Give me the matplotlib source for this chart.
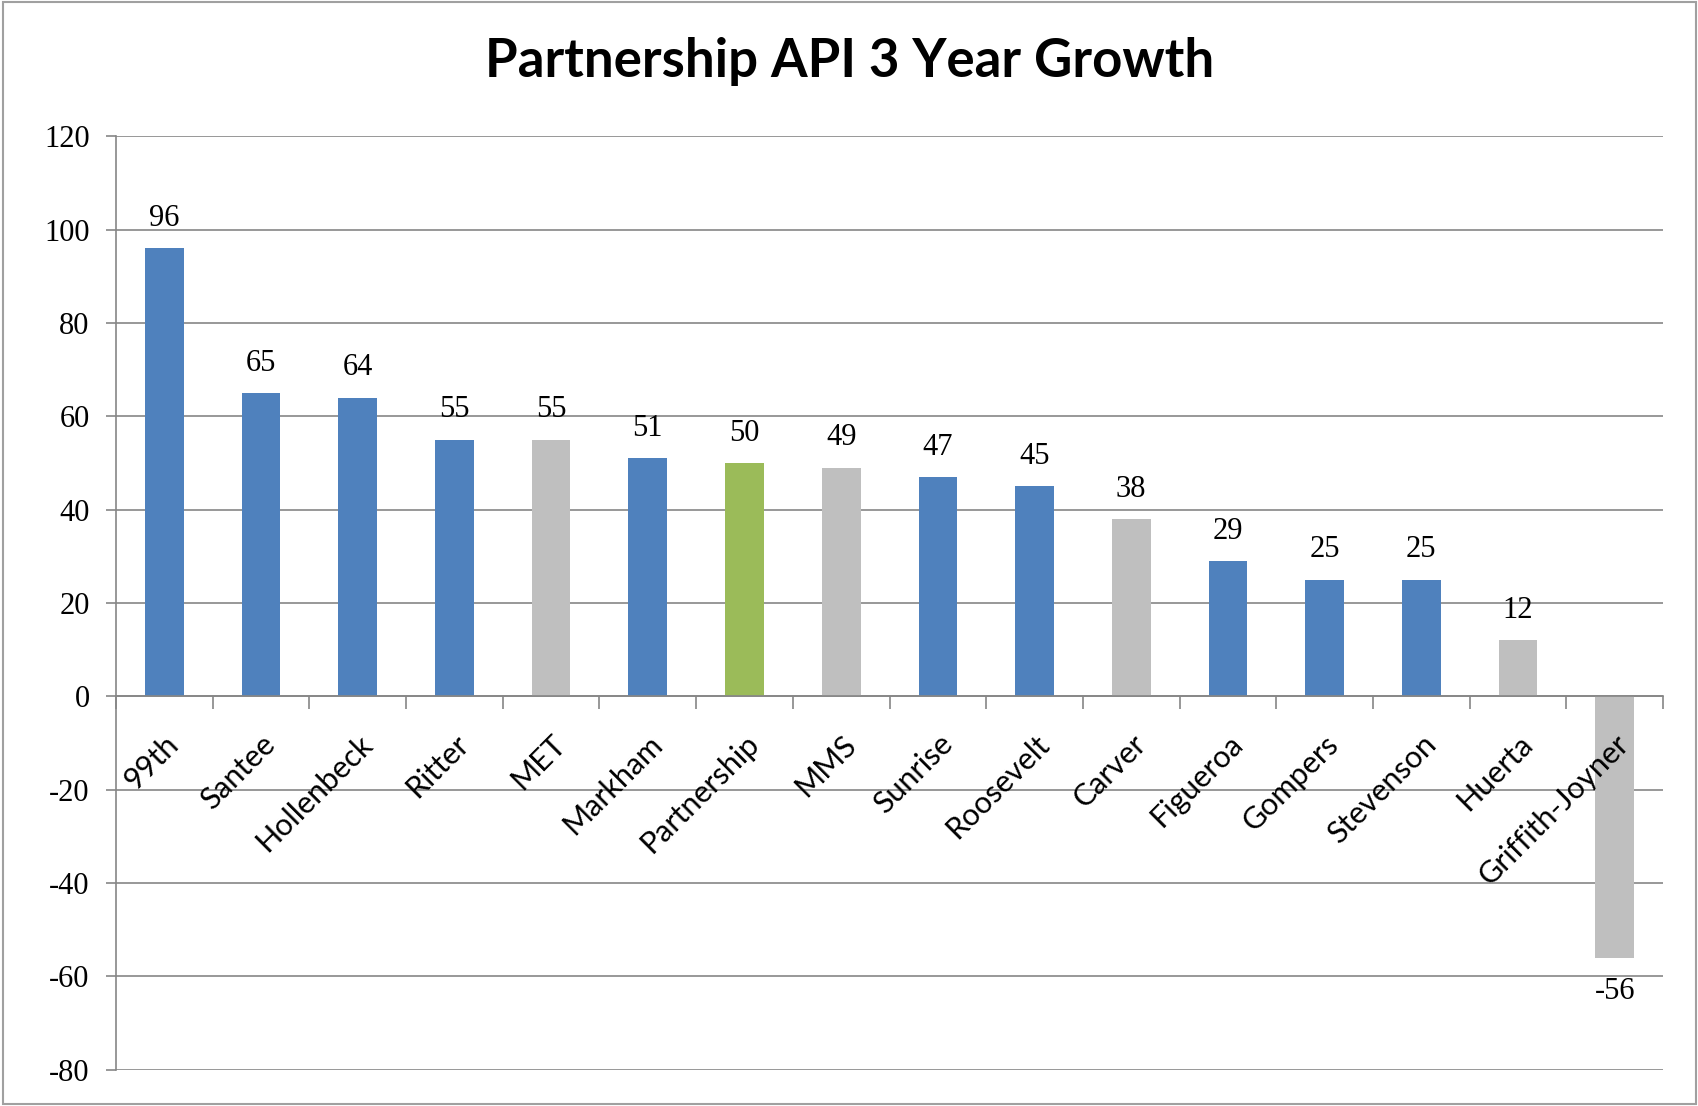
import matplotlib.pyplot as plt
from matplotlib.patches import Rectangle
import numpy as np

plt.rcParams['axes.unicode_minus'] = False

# chart data
schools = ['99th', 'Santee', 'Hollenbeck', 'Ritter', 'MET', 'Markham', 'Partnership',
           'MMS', 'Sunrise', 'Roosevelt', 'Carver', 'Figueroa', 'Gompers',
           'Stevenson', 'Huerta', 'Griffith-Joyner']
growth = [96, 65, 64, 55, 55, 51, 50, 49, 47, 45, 38, 29, 25, 25, 12, -56]
groups = ['blue', 'blue', 'blue', 'blue', 'gray', 'blue', 'green', 'gray',
          'blue', 'blue', 'gray', 'blue', 'blue', 'blue', 'gray', 'gray']
y_ticks = [-80, -60, -40, -20, 0, 20, 40, 60, 80, 100, 120]

palette = {'blue': '#4F81BD', 'gray': '#BFBFBF', 'green': '#9BBB59'}
grid_col = '#868686'

fig = plt.figure(figsize=(16.99, 11.06), dpi=100)
ax = fig.add_axes([0.0683, 0.033, 0.9105, 0.8436])

x = np.arange(len(schools))
ax.bar(x, growth, width=0.4, color=[palette[g] for g in groups], zorder=2)

ax.set_xlim(-0.5, len(schools) - 0.5)
ax.set_ylim(y_ticks[0], y_ticks[-1])
ax.set_yticks(y_ticks)
ax.yaxis.grid(True, color=grid_col, lw=1.2)
ax.set_axisbelow(True)
ax.xaxis.set_zorder(4)  # category labels over the negative bar

# spines: category axis sits on zero, like excel
for s in ['top', 'right']:
    ax.spines[s].set_visible(False)
ax.spines['left'].set_color(grid_col)
ax.spines['left'].set_linewidth(1.2)
ax.spines['bottom'].set_position(('data', 0))
ax.spines['bottom'].set_color(grid_col)
ax.spines['bottom'].set_linewidth(1.2)

ax.tick_params(axis='y', length=7, color=grid_col, width=1.2, pad=12)
for lab in ax.get_yticklabels():
    lab.set_fontfamily('Liberation Serif')
    lab.set_fontsize(22)

ax.set_xticks(x)
ax.set_xticklabels(schools, fontfamily='Lato', fontsize=22)
ax.set_xticks(np.arange(-0.5, len(schools)), minor=True)
ax.tick_params(axis='x', which='major', length=0, pad=24)
ax.tick_params(axis='x', which='minor', length=9, color=grid_col, width=1.2)
plt.setp(ax.get_xticklabels(), rotation=45, ha='right', rotation_mode='anchor')

# value labels
for xi, v in zip(x, growth):
    if v >= 0:
        ax.annotate(str(v), (xi, v), xytext=(0, 11), textcoords='offset points',
                    ha='center', va='bottom', fontfamily='Liberation Serif', fontsize=22)
    else:
        ax.annotate(str(v), (xi, v), xytext=(0, -14), textcoords='offset points',
                    ha='center', va='top', fontfamily='Liberation Serif', fontsize=22)

fig.text(0.5, 0.944, 'Partnership API 3 Year Growth', ha='center', va='center',
         fontfamily='Lato', fontweight='bold', fontsize=38)

# chart border
fig.patches.append(Rectangle((0.002, 0.002), 0.996, 0.996, transform=fig.transFigure,
                             fill=False, edgecolor='#A0A0A0', lw=1.5))

fig.savefig('out.png', dpi=100)
